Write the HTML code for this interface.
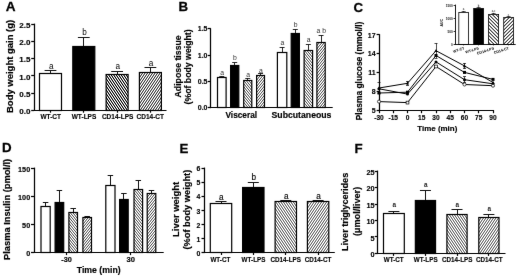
<!DOCTYPE html>
<html><head><meta charset="utf-8"><title>Figure</title>
<style>
html,body{margin:0;padding:0;background:#fff;}
body{width:520px;height:278px;overflow:hidden;font-family:"Liberation Sans",sans-serif;}
svg{display:block;font-family:"Liberation Sans",sans-serif;}
</style></head>
<body>
<svg width="520" height="278" viewBox="0 0 520 278">
<defs>
<filter id="soft" x="0" y="0" width="520" height="278" filterUnits="userSpaceOnUse" color-interpolation-filters="sRGB"><feConvolveMatrix order="3" kernelMatrix="0.0028 0.0470 0.0028 0.0470 0.8008 0.0470 0.0028 0.0470 0.0028" edgeMode="duplicate" preserveAlpha="false"/></filter>
<pattern id="Lh1" patternUnits="userSpaceOnUse" width="5" height="15" shape-rendering="crispEdges"><rect width="5" height="15" fill="#fff"/><rect x="0" y="0" width="1" height="1" fill="#f0f0f0"/><rect x="1" y="0" width="1" height="1" fill="#171717"/><rect x="2" y="0" width="1" height="1" fill="#d4d4d4"/><rect x="3" y="0" width="1" height="1" fill="#7b7b7b"/><rect x="4" y="0" width="1" height="1" fill="#4e4e4e"/><rect x="0" y="1" width="1" height="1" fill="#ababab"/><rect x="1" y="1" width="1" height="1" fill="#ababab"/><rect x="2" y="1" width="1" height="1" fill="#2a2a2a"/><rect x="3" y="1" width="1" height="1" fill="#fafafa"/><rect x="4" y="1" width="1" height="1" fill="#2a2a2a"/><rect x="0" y="2" width="1" height="1" fill="#171717"/><rect x="1" y="2" width="1" height="1" fill="#f0f0f0"/><rect x="2" y="2" width="1" height="1" fill="#4d4d4d"/><rect x="3" y="2" width="1" height="1" fill="#7b7b7b"/><rect x="4" y="2" width="1" height="1" fill="#d4d4d4"/><rect x="0" y="3" width="1" height="1" fill="#7b7b7b"/><rect x="1" y="3" width="1" height="1" fill="#4d4d4d"/><rect x="2" y="3" width="1" height="1" fill="#f0f0f0"/><rect x="3" y="3" width="1" height="1" fill="#171717"/><rect x="4" y="3" width="1" height="1" fill="#d4d4d4"/><rect x="0" y="4" width="1" height="1" fill="#fafafa"/><rect x="1" y="4" width="1" height="1" fill="#2a2a2a"/><rect x="2" y="4" width="1" height="1" fill="#ababab"/><rect x="3" y="4" width="1" height="1" fill="#ababab"/><rect x="4" y="4" width="1" height="1" fill="#2a2a2a"/><rect x="0" y="5" width="1" height="1" fill="#7b7b7b"/><rect x="1" y="5" width="1" height="1" fill="#d4d4d4"/><rect x="2" y="5" width="1" height="1" fill="#171717"/><rect x="3" y="5" width="1" height="1" fill="#f0f0f0"/><rect x="4" y="5" width="1" height="1" fill="#4d4d4d"/><rect x="0" y="6" width="1" height="1" fill="#171717"/><rect x="1" y="6" width="1" height="1" fill="#d4d4d4"/><rect x="2" y="6" width="1" height="1" fill="#7b7b7b"/><rect x="3" y="6" width="1" height="1" fill="#4d4d4d"/><rect x="4" y="6" width="1" height="1" fill="#f0f0f0"/><rect x="0" y="7" width="1" height="1" fill="#ababab"/><rect x="1" y="7" width="1" height="1" fill="#2a2a2a"/><rect x="2" y="7" width="1" height="1" fill="#fafafa"/><rect x="3" y="7" width="1" height="1" fill="#2a2a2a"/><rect x="4" y="7" width="1" height="1" fill="#ababab"/><rect x="0" y="8" width="1" height="1" fill="#f0f0f0"/><rect x="1" y="8" width="1" height="1" fill="#4d4d4d"/><rect x="2" y="8" width="1" height="1" fill="#7b7b7b"/><rect x="3" y="8" width="1" height="1" fill="#d4d4d4"/><rect x="4" y="8" width="1" height="1" fill="#171717"/><rect x="0" y="9" width="1" height="1" fill="#4e4e4e"/><rect x="1" y="9" width="1" height="1" fill="#f0f0f0"/><rect x="2" y="9" width="1" height="1" fill="#171717"/><rect x="3" y="9" width="1" height="1" fill="#d4d4d4"/><rect x="4" y="9" width="1" height="1" fill="#7b7b7b"/><rect x="0" y="10" width="1" height="1" fill="#2a2a2a"/><rect x="1" y="10" width="1" height="1" fill="#ababab"/><rect x="2" y="10" width="1" height="1" fill="#ababab"/><rect x="3" y="10" width="1" height="1" fill="#2a2a2a"/><rect x="4" y="10" width="1" height="1" fill="#fafafa"/><rect x="0" y="11" width="1" height="1" fill="#d4d4d4"/><rect x="1" y="11" width="1" height="1" fill="#171717"/><rect x="2" y="11" width="1" height="1" fill="#f0f0f0"/><rect x="3" y="11" width="1" height="1" fill="#4e4e4e"/><rect x="4" y="11" width="1" height="1" fill="#7b7b7b"/><rect x="0" y="12" width="1" height="1" fill="#d4d4d4"/><rect x="1" y="12" width="1" height="1" fill="#7b7b7b"/><rect x="2" y="12" width="1" height="1" fill="#4d4d4d"/><rect x="3" y="12" width="1" height="1" fill="#f0f0f0"/><rect x="4" y="12" width="1" height="1" fill="#171717"/><rect x="0" y="13" width="1" height="1" fill="#2a2a2a"/><rect x="1" y="13" width="1" height="1" fill="#fafafa"/><rect x="2" y="13" width="1" height="1" fill="#2a2a2a"/><rect x="3" y="13" width="1" height="1" fill="#ababab"/><rect x="4" y="13" width="1" height="1" fill="#ababab"/><rect x="0" y="14" width="1" height="1" fill="#4d4d4d"/><rect x="1" y="14" width="1" height="1" fill="#7b7b7b"/><rect x="2" y="14" width="1" height="1" fill="#d4d4d4"/><rect x="3" y="14" width="1" height="1" fill="#171717"/><rect x="4" y="14" width="1" height="1" fill="#f0f0f0"/></pattern>
<pattern id="Lh2" patternUnits="userSpaceOnUse" width="5" height="15" shape-rendering="crispEdges"><rect width="5" height="15" fill="#fff"/><rect x="0" y="0" width="1" height="1" fill="#787878"/><rect x="1" y="0" width="1" height="1" fill="#9c9c9c"/><rect x="2" y="0" width="1" height="1" fill="#e1e1e1"/><rect x="3" y="0" width="1" height="1" fill="#4d4d4d"/><rect x="4" y="0" width="1" height="1" fill="#f7f7f7"/><rect x="0" y="1" width="1" height="1" fill="#5c5c5c"/><rect x="2" y="1" width="1" height="1" fill="#5c5c5c"/><rect x="3" y="1" width="1" height="1" fill="#c1c1c1"/><rect x="4" y="1" width="1" height="1" fill="#c1c1c1"/><rect x="0" y="2" width="1" height="1" fill="#e1e1e1"/><rect x="1" y="2" width="1" height="1" fill="#9c9c9c"/><rect x="2" y="2" width="1" height="1" fill="#787878"/><rect x="3" y="2" width="1" height="1" fill="#f7f7f7"/><rect x="4" y="2" width="1" height="1" fill="#4d4d4d"/><rect x="0" y="3" width="1" height="1" fill="#e1e1e1"/><rect x="1" y="3" width="1" height="1" fill="#4d4d4d"/><rect x="2" y="3" width="1" height="1" fill="#f7f7f7"/><rect x="3" y="3" width="1" height="1" fill="#787878"/><rect x="4" y="3" width="1" height="1" fill="#9c9c9c"/><rect x="0" y="4" width="1" height="1" fill="#5c5c5c"/><rect x="1" y="4" width="1" height="1" fill="#c1c1c1"/><rect x="2" y="4" width="1" height="1" fill="#c1c1c1"/><rect x="3" y="4" width="1" height="1" fill="#5c5c5c"/><rect x="0" y="5" width="1" height="1" fill="#787878"/><rect x="1" y="5" width="1" height="1" fill="#f7f7f7"/><rect x="2" y="5" width="1" height="1" fill="#4d4d4d"/><rect x="3" y="5" width="1" height="1" fill="#e1e1e1"/><rect x="4" y="5" width="1" height="1" fill="#9c9c9c"/><rect x="0" y="6" width="1" height="1" fill="#f7f7f7"/><rect x="1" y="6" width="1" height="1" fill="#787878"/><rect x="2" y="6" width="1" height="1" fill="#9c9c9c"/><rect x="3" y="6" width="1" height="1" fill="#e1e1e1"/><rect x="4" y="6" width="1" height="1" fill="#4d4d4d"/><rect x="0" y="7" width="1" height="1" fill="#c1c1c1"/><rect x="1" y="7" width="1" height="1" fill="#5c5c5c"/><rect x="3" y="7" width="1" height="1" fill="#5c5c5c"/><rect x="4" y="7" width="1" height="1" fill="#c1c1c1"/><rect x="0" y="8" width="1" height="1" fill="#4d4d4d"/><rect x="1" y="8" width="1" height="1" fill="#e1e1e1"/><rect x="2" y="8" width="1" height="1" fill="#9c9c9c"/><rect x="3" y="8" width="1" height="1" fill="#787878"/><rect x="4" y="8" width="1" height="1" fill="#f7f7f7"/><rect x="0" y="9" width="1" height="1" fill="#9c9c9c"/><rect x="1" y="9" width="1" height="1" fill="#e1e1e1"/><rect x="2" y="9" width="1" height="1" fill="#4d4d4d"/><rect x="3" y="9" width="1" height="1" fill="#f7f7f7"/><rect x="4" y="9" width="1" height="1" fill="#787878"/><rect x="1" y="10" width="1" height="1" fill="#5c5c5c"/><rect x="2" y="10" width="1" height="1" fill="#c1c1c1"/><rect x="3" y="10" width="1" height="1" fill="#c1c1c1"/><rect x="4" y="10" width="1" height="1" fill="#5c5c5c"/><rect x="0" y="11" width="1" height="1" fill="#9c9c9c"/><rect x="1" y="11" width="1" height="1" fill="#787878"/><rect x="2" y="11" width="1" height="1" fill="#f7f7f7"/><rect x="3" y="11" width="1" height="1" fill="#4d4d4d"/><rect x="4" y="11" width="1" height="1" fill="#e1e1e1"/><rect x="0" y="12" width="1" height="1" fill="#4d4d4d"/><rect x="1" y="12" width="1" height="1" fill="#f7f7f7"/><rect x="2" y="12" width="1" height="1" fill="#787878"/><rect x="3" y="12" width="1" height="1" fill="#9c9c9c"/><rect x="4" y="12" width="1" height="1" fill="#e1e1e1"/><rect x="0" y="13" width="1" height="1" fill="#c1c1c1"/><rect x="1" y="13" width="1" height="1" fill="#c1c1c1"/><rect x="2" y="13" width="1" height="1" fill="#5c5c5c"/><rect x="4" y="13" width="1" height="1" fill="#5c5c5c"/><rect x="0" y="14" width="1" height="1" fill="#f7f7f7"/><rect x="1" y="14" width="1" height="1" fill="#4d4d4d"/><rect x="2" y="14" width="1" height="1" fill="#e1e1e1"/><rect x="3" y="14" width="1" height="1" fill="#9c9c9c"/><rect x="4" y="14" width="1" height="1" fill="#787878"/></pattern>
<pattern id="Mh1" patternUnits="userSpaceOnUse" width="5" height="15" shape-rendering="crispEdges"><rect width="5" height="15" fill="#fff"/><rect x="0" y="0" width="1" height="1" fill="#fcfcfc"/><rect x="1" y="0" width="1" height="1" fill="#747474"/><rect x="2" y="0" width="1" height="1" fill="#eaeaea"/><rect x="3" y="0" width="1" height="1" fill="#b2b2b2"/><rect x="4" y="0" width="1" height="1" fill="#969696"/><rect x="0" y="1" width="1" height="1" fill="#d0d0d0"/><rect x="1" y="1" width="1" height="1" fill="#d0d0d0"/><rect x="2" y="1" width="1" height="1" fill="#808080"/><rect x="4" y="1" width="1" height="1" fill="#808080"/><rect x="0" y="2" width="1" height="1" fill="#747474"/><rect x="1" y="2" width="1" height="1" fill="#fcfcfc"/><rect x="2" y="2" width="1" height="1" fill="#969696"/><rect x="3" y="2" width="1" height="1" fill="#b2b2b2"/><rect x="4" y="2" width="1" height="1" fill="#eaeaea"/><rect x="0" y="3" width="1" height="1" fill="#b2b2b2"/><rect x="1" y="3" width="1" height="1" fill="#969696"/><rect x="2" y="3" width="1" height="1" fill="#fcfcfc"/><rect x="3" y="3" width="1" height="1" fill="#747474"/><rect x="4" y="3" width="1" height="1" fill="#eaeaea"/><rect x="1" y="4" width="1" height="1" fill="#808080"/><rect x="2" y="4" width="1" height="1" fill="#d0d0d0"/><rect x="3" y="4" width="1" height="1" fill="#d0d0d0"/><rect x="4" y="4" width="1" height="1" fill="#808080"/><rect x="0" y="5" width="1" height="1" fill="#b2b2b2"/><rect x="1" y="5" width="1" height="1" fill="#eaeaea"/><rect x="2" y="5" width="1" height="1" fill="#747474"/><rect x="3" y="5" width="1" height="1" fill="#fcfcfc"/><rect x="4" y="5" width="1" height="1" fill="#969696"/><rect x="0" y="6" width="1" height="1" fill="#747474"/><rect x="1" y="6" width="1" height="1" fill="#eaeaea"/><rect x="2" y="6" width="1" height="1" fill="#b2b2b2"/><rect x="3" y="6" width="1" height="1" fill="#969696"/><rect x="4" y="6" width="1" height="1" fill="#fcfcfc"/><rect x="0" y="7" width="1" height="1" fill="#d0d0d0"/><rect x="1" y="7" width="1" height="1" fill="#808080"/><rect x="3" y="7" width="1" height="1" fill="#808080"/><rect x="4" y="7" width="1" height="1" fill="#d0d0d0"/><rect x="0" y="8" width="1" height="1" fill="#fcfcfc"/><rect x="1" y="8" width="1" height="1" fill="#969696"/><rect x="2" y="8" width="1" height="1" fill="#b2b2b2"/><rect x="3" y="8" width="1" height="1" fill="#eaeaea"/><rect x="4" y="8" width="1" height="1" fill="#747474"/><rect x="0" y="9" width="1" height="1" fill="#969696"/><rect x="1" y="9" width="1" height="1" fill="#fcfcfc"/><rect x="2" y="9" width="1" height="1" fill="#747474"/><rect x="3" y="9" width="1" height="1" fill="#eaeaea"/><rect x="4" y="9" width="1" height="1" fill="#b2b2b2"/><rect x="0" y="10" width="1" height="1" fill="#808080"/><rect x="1" y="10" width="1" height="1" fill="#d0d0d0"/><rect x="2" y="10" width="1" height="1" fill="#d0d0d0"/><rect x="3" y="10" width="1" height="1" fill="#808080"/><rect x="0" y="11" width="1" height="1" fill="#eaeaea"/><rect x="1" y="11" width="1" height="1" fill="#747474"/><rect x="2" y="11" width="1" height="1" fill="#fcfcfc"/><rect x="3" y="11" width="1" height="1" fill="#969696"/><rect x="4" y="11" width="1" height="1" fill="#b2b2b2"/><rect x="0" y="12" width="1" height="1" fill="#eaeaea"/><rect x="1" y="12" width="1" height="1" fill="#b2b2b2"/><rect x="2" y="12" width="1" height="1" fill="#969696"/><rect x="3" y="12" width="1" height="1" fill="#fcfcfc"/><rect x="4" y="12" width="1" height="1" fill="#747474"/><rect x="0" y="13" width="1" height="1" fill="#808080"/><rect x="2" y="13" width="1" height="1" fill="#808080"/><rect x="3" y="13" width="1" height="1" fill="#d0d0d0"/><rect x="4" y="13" width="1" height="1" fill="#d0d0d0"/><rect x="0" y="14" width="1" height="1" fill="#969696"/><rect x="1" y="14" width="1" height="1" fill="#b2b2b2"/><rect x="2" y="14" width="1" height="1" fill="#eaeaea"/><rect x="3" y="14" width="1" height="1" fill="#747474"/><rect x="4" y="14" width="1" height="1" fill="#fcfcfc"/></pattern>
<pattern id="Mh2" patternUnits="userSpaceOnUse" width="5" height="15" shape-rendering="crispEdges"><rect width="5" height="15" fill="#fff"/><rect x="0" y="0" width="1" height="1" fill="#969696"/><rect x="1" y="0" width="1" height="1" fill="#b2b2b2"/><rect x="2" y="0" width="1" height="1" fill="#eaeaea"/><rect x="3" y="0" width="1" height="1" fill="#747474"/><rect x="4" y="0" width="1" height="1" fill="#fcfcfc"/><rect x="0" y="1" width="1" height="1" fill="#808080"/><rect x="2" y="1" width="1" height="1" fill="#808080"/><rect x="3" y="1" width="1" height="1" fill="#d0d0d0"/><rect x="4" y="1" width="1" height="1" fill="#d0d0d0"/><rect x="0" y="2" width="1" height="1" fill="#eaeaea"/><rect x="1" y="2" width="1" height="1" fill="#b2b2b2"/><rect x="2" y="2" width="1" height="1" fill="#969696"/><rect x="3" y="2" width="1" height="1" fill="#fcfcfc"/><rect x="4" y="2" width="1" height="1" fill="#747474"/><rect x="0" y="3" width="1" height="1" fill="#eaeaea"/><rect x="1" y="3" width="1" height="1" fill="#747474"/><rect x="2" y="3" width="1" height="1" fill="#fcfcfc"/><rect x="3" y="3" width="1" height="1" fill="#969696"/><rect x="4" y="3" width="1" height="1" fill="#b2b2b2"/><rect x="0" y="4" width="1" height="1" fill="#808080"/><rect x="1" y="4" width="1" height="1" fill="#d0d0d0"/><rect x="2" y="4" width="1" height="1" fill="#d0d0d0"/><rect x="3" y="4" width="1" height="1" fill="#808080"/><rect x="0" y="5" width="1" height="1" fill="#969696"/><rect x="1" y="5" width="1" height="1" fill="#fcfcfc"/><rect x="2" y="5" width="1" height="1" fill="#747474"/><rect x="3" y="5" width="1" height="1" fill="#eaeaea"/><rect x="4" y="5" width="1" height="1" fill="#b2b2b2"/><rect x="0" y="6" width="1" height="1" fill="#fcfcfc"/><rect x="1" y="6" width="1" height="1" fill="#969696"/><rect x="2" y="6" width="1" height="1" fill="#b2b2b2"/><rect x="3" y="6" width="1" height="1" fill="#eaeaea"/><rect x="4" y="6" width="1" height="1" fill="#747474"/><rect x="0" y="7" width="1" height="1" fill="#d0d0d0"/><rect x="1" y="7" width="1" height="1" fill="#808080"/><rect x="3" y="7" width="1" height="1" fill="#808080"/><rect x="4" y="7" width="1" height="1" fill="#d0d0d0"/><rect x="0" y="8" width="1" height="1" fill="#747474"/><rect x="1" y="8" width="1" height="1" fill="#eaeaea"/><rect x="2" y="8" width="1" height="1" fill="#b2b2b2"/><rect x="3" y="8" width="1" height="1" fill="#969696"/><rect x="4" y="8" width="1" height="1" fill="#fcfcfc"/><rect x="0" y="9" width="1" height="1" fill="#b2b2b2"/><rect x="1" y="9" width="1" height="1" fill="#eaeaea"/><rect x="2" y="9" width="1" height="1" fill="#747474"/><rect x="3" y="9" width="1" height="1" fill="#fcfcfc"/><rect x="4" y="9" width="1" height="1" fill="#969696"/><rect x="1" y="10" width="1" height="1" fill="#808080"/><rect x="2" y="10" width="1" height="1" fill="#d0d0d0"/><rect x="3" y="10" width="1" height="1" fill="#d0d0d0"/><rect x="4" y="10" width="1" height="1" fill="#808080"/><rect x="0" y="11" width="1" height="1" fill="#b2b2b2"/><rect x="1" y="11" width="1" height="1" fill="#969696"/><rect x="2" y="11" width="1" height="1" fill="#fcfcfc"/><rect x="3" y="11" width="1" height="1" fill="#747474"/><rect x="4" y="11" width="1" height="1" fill="#eaeaea"/><rect x="0" y="12" width="1" height="1" fill="#747474"/><rect x="1" y="12" width="1" height="1" fill="#fcfcfc"/><rect x="2" y="12" width="1" height="1" fill="#969696"/><rect x="3" y="12" width="1" height="1" fill="#b2b2b2"/><rect x="4" y="12" width="1" height="1" fill="#eaeaea"/><rect x="0" y="13" width="1" height="1" fill="#d0d0d0"/><rect x="1" y="13" width="1" height="1" fill="#d0d0d0"/><rect x="2" y="13" width="1" height="1" fill="#808080"/><rect x="4" y="13" width="1" height="1" fill="#808080"/><rect x="0" y="14" width="1" height="1" fill="#fcfcfc"/><rect x="1" y="14" width="1" height="1" fill="#747474"/><rect x="2" y="14" width="1" height="1" fill="#eaeaea"/><rect x="3" y="14" width="1" height="1" fill="#b2b2b2"/><rect x="4" y="14" width="1" height="1" fill="#969696"/></pattern>
<pattern id="Sh1" patternUnits="userSpaceOnUse" width="5" height="31" shape-rendering="crispEdges"><rect width="5" height="31" fill="#fff"/><rect x="0" y="0" width="1" height="1" fill="#f9f9f9"/><rect x="1" y="0" width="1" height="1" fill="#757575"/><rect x="2" y="0" width="1" height="1" fill="#e2e2e2"/><rect x="3" y="0" width="1" height="1" fill="#c6c6c6"/><rect x="4" y="0" width="1" height="1" fill="#8c8c8c"/><rect x="0" y="1" width="1" height="1" fill="#aeaeae"/><rect x="1" y="1" width="1" height="1" fill="#eeeeee"/><rect x="2" y="1" width="1" height="1" fill="#6a6a6a"/><rect x="3" y="1" width="1" height="1" fill="#f4f4f4"/><rect x="4" y="1" width="1" height="1" fill="#9d9d9d"/><rect x="0" y="2" width="1" height="1" fill="#7b7b7b"/><rect x="1" y="2" width="1" height="1" fill="#d1d1d1"/><rect x="2" y="2" width="1" height="1" fill="#d7d7d7"/><rect x="3" y="2" width="1" height="1" fill="#757575"/><rect x="0" y="3" width="1" height="1" fill="#f9f9f9"/><rect x="1" y="3" width="1" height="1" fill="#646464"/><rect x="2" y="3" width="1" height="1" fill="#eeeeee"/><rect x="3" y="3" width="1" height="1" fill="#b4b4b4"/><rect x="4" y="3" width="1" height="1" fill="#989898"/><rect x="0" y="4" width="1" height="1" fill="#c0c0c0"/><rect x="1" y="4" width="1" height="1" fill="#e8e8e8"/><rect x="2" y="4" width="1" height="1" fill="#6f6f6f"/><rect x="3" y="4" width="1" height="1" fill="#f9f9f9"/><rect x="4" y="4" width="1" height="1" fill="#929292"/><rect x="0" y="5" width="1" height="1" fill="#757575"/><rect x="1" y="5" width="1" height="1" fill="#dcdcdc"/><rect x="2" y="5" width="1" height="1" fill="#cbcbcb"/><rect x="3" y="5" width="1" height="1" fill="#868686"/><rect x="0" y="6" width="1" height="1" fill="#eeeeee"/><rect x="1" y="6" width="1" height="1" fill="#6f6f6f"/><rect x="2" y="6" width="1" height="1" fill="#eeeeee"/><rect x="3" y="6" width="1" height="1" fill="#a3a3a3"/><rect x="4" y="6" width="1" height="1" fill="#a9a9a9"/><rect x="0" y="7" width="1" height="1" fill="#cbcbcb"/><rect x="1" y="7" width="1" height="1" fill="#dcdcdc"/><rect x="2" y="7" width="1" height="1" fill="#6f6f6f"/><rect x="4" y="7" width="1" height="1" fill="#808080"/><rect x="0" y="8" width="1" height="1" fill="#6a6a6a"/><rect x="1" y="8" width="1" height="1" fill="#e8e8e8"/><rect x="2" y="8" width="1" height="1" fill="#bababa"/><rect x="3" y="8" width="1" height="1" fill="#929292"/><rect x="4" y="8" width="1" height="1" fill="#f9f9f9"/><rect x="0" y="9" width="1" height="1" fill="#eeeeee"/><rect x="1" y="9" width="1" height="1" fill="#6a6a6a"/><rect x="2" y="9" width="1" height="1" fill="#f9f9f9"/><rect x="3" y="9" width="1" height="1" fill="#989898"/><rect x="4" y="9" width="1" height="1" fill="#bababa"/><rect x="0" y="10" width="1" height="1" fill="#dcdcdc"/><rect x="1" y="10" width="1" height="1" fill="#d1d1d1"/><rect x="2" y="10" width="1" height="1" fill="#808080"/><rect x="4" y="10" width="1" height="1" fill="#757575"/><rect x="0" y="11" width="1" height="1" fill="#6f6f6f"/><rect x="1" y="11" width="1" height="1" fill="#eeeeee"/><rect x="2" y="11" width="1" height="1" fill="#aeaeae"/><rect x="3" y="11" width="1" height="1" fill="#a3a3a3"/><rect x="4" y="11" width="1" height="1" fill="#f4f4f4"/><rect x="0" y="12" width="1" height="1" fill="#dcdcdc"/><rect x="1" y="12" width="1" height="1" fill="#6f6f6f"/><rect x="2" y="12" width="1" height="1" fill="#f9f9f9"/><rect x="3" y="12" width="1" height="1" fill="#808080"/><rect x="4" y="12" width="1" height="1" fill="#c6c6c6"/><rect x="0" y="13" width="1" height="1" fill="#e2e2e2"/><rect x="1" y="13" width="1" height="1" fill="#c0c0c0"/><rect x="2" y="13" width="1" height="1" fill="#8c8c8c"/><rect x="3" y="13" width="1" height="1" fill="#f9f9f9"/><rect x="4" y="13" width="1" height="1" fill="#6f6f6f"/><rect x="0" y="14" width="1" height="1" fill="#6a6a6a"/><rect x="1" y="14" width="1" height="1" fill="#f9f9f9"/><rect x="2" y="14" width="1" height="1" fill="#9d9d9d"/><rect x="3" y="14" width="1" height="1" fill="#b4b4b4"/><rect x="4" y="14" width="1" height="1" fill="#eeeeee"/><rect x="0" y="15" width="1" height="1" fill="#d7d7d7"/><rect x="1" y="15" width="1" height="1" fill="#7b7b7b"/><rect x="3" y="15" width="1" height="1" fill="#7b7b7b"/><rect x="4" y="15" width="1" height="1" fill="#d7d7d7"/><rect x="0" y="16" width="1" height="1" fill="#eeeeee"/><rect x="1" y="16" width="1" height="1" fill="#b4b4b4"/><rect x="2" y="16" width="1" height="1" fill="#9d9d9d"/><rect x="3" y="16" width="1" height="1" fill="#f9f9f9"/><rect x="4" y="16" width="1" height="1" fill="#6a6a6a"/><rect x="0" y="17" width="1" height="1" fill="#6f6f6f"/><rect x="1" y="17" width="1" height="1" fill="#f9f9f9"/><rect x="2" y="17" width="1" height="1" fill="#8c8c8c"/><rect x="3" y="17" width="1" height="1" fill="#c0c0c0"/><rect x="4" y="17" width="1" height="1" fill="#e2e2e2"/><rect x="0" y="18" width="1" height="1" fill="#c6c6c6"/><rect x="1" y="18" width="1" height="1" fill="#808080"/><rect x="2" y="18" width="1" height="1" fill="#f9f9f9"/><rect x="3" y="18" width="1" height="1" fill="#6f6f6f"/><rect x="4" y="18" width="1" height="1" fill="#dcdcdc"/><rect x="0" y="19" width="1" height="1" fill="#f4f4f4"/><rect x="1" y="19" width="1" height="1" fill="#a3a3a3"/><rect x="2" y="19" width="1" height="1" fill="#aeaeae"/><rect x="3" y="19" width="1" height="1" fill="#eeeeee"/><rect x="4" y="19" width="1" height="1" fill="#6f6f6f"/><rect x="0" y="20" width="1" height="1" fill="#757575"/><rect x="2" y="20" width="1" height="1" fill="#808080"/><rect x="3" y="20" width="1" height="1" fill="#d1d1d1"/><rect x="4" y="20" width="1" height="1" fill="#dcdcdc"/><rect x="0" y="21" width="1" height="1" fill="#bababa"/><rect x="1" y="21" width="1" height="1" fill="#989898"/><rect x="2" y="21" width="1" height="1" fill="#f9f9f9"/><rect x="3" y="21" width="1" height="1" fill="#6a6a6a"/><rect x="4" y="21" width="1" height="1" fill="#eeeeee"/><rect x="0" y="22" width="1" height="1" fill="#f9f9f9"/><rect x="1" y="22" width="1" height="1" fill="#929292"/><rect x="2" y="22" width="1" height="1" fill="#bababa"/><rect x="3" y="22" width="1" height="1" fill="#e8e8e8"/><rect x="4" y="22" width="1" height="1" fill="#6a6a6a"/><rect x="0" y="23" width="1" height="1" fill="#808080"/><rect x="2" y="23" width="1" height="1" fill="#6f6f6f"/><rect x="3" y="23" width="1" height="1" fill="#dcdcdc"/><rect x="4" y="23" width="1" height="1" fill="#cbcbcb"/><rect x="0" y="24" width="1" height="1" fill="#a9a9a9"/><rect x="1" y="24" width="1" height="1" fill="#a3a3a3"/><rect x="2" y="24" width="1" height="1" fill="#eeeeee"/><rect x="3" y="24" width="1" height="1" fill="#6f6f6f"/><rect x="4" y="24" width="1" height="1" fill="#eeeeee"/><rect x="1" y="25" width="1" height="1" fill="#868686"/><rect x="2" y="25" width="1" height="1" fill="#cbcbcb"/><rect x="3" y="25" width="1" height="1" fill="#dcdcdc"/><rect x="4" y="25" width="1" height="1" fill="#757575"/><rect x="0" y="26" width="1" height="1" fill="#929292"/><rect x="1" y="26" width="1" height="1" fill="#f9f9f9"/><rect x="2" y="26" width="1" height="1" fill="#6f6f6f"/><rect x="3" y="26" width="1" height="1" fill="#e8e8e8"/><rect x="4" y="26" width="1" height="1" fill="#c0c0c0"/><rect x="0" y="27" width="1" height="1" fill="#989898"/><rect x="1" y="27" width="1" height="1" fill="#b4b4b4"/><rect x="2" y="27" width="1" height="1" fill="#eeeeee"/><rect x="3" y="27" width="1" height="1" fill="#646464"/><rect x="4" y="27" width="1" height="1" fill="#f9f9f9"/><rect x="1" y="28" width="1" height="1" fill="#757575"/><rect x="2" y="28" width="1" height="1" fill="#d7d7d7"/><rect x="3" y="28" width="1" height="1" fill="#d1d1d1"/><rect x="4" y="28" width="1" height="1" fill="#7b7b7b"/><rect x="0" y="29" width="1" height="1" fill="#9d9d9d"/><rect x="1" y="29" width="1" height="1" fill="#f4f4f4"/><rect x="2" y="29" width="1" height="1" fill="#6a6a6a"/><rect x="3" y="29" width="1" height="1" fill="#eeeeee"/><rect x="4" y="29" width="1" height="1" fill="#aeaeae"/><rect x="0" y="30" width="1" height="1" fill="#8c8c8c"/><rect x="1" y="30" width="1" height="1" fill="#c6c6c6"/><rect x="2" y="30" width="1" height="1" fill="#e2e2e2"/><rect x="3" y="30" width="1" height="1" fill="#757575"/><rect x="4" y="30" width="1" height="1" fill="#f9f9f9"/></pattern>
<pattern id="Sh2" patternUnits="userSpaceOnUse" width="5" height="31" shape-rendering="crispEdges"><rect width="5" height="31" fill="#fff"/><rect x="0" y="0" width="1" height="1" fill="#8c8c8c"/><rect x="1" y="0" width="1" height="1" fill="#c6c6c6"/><rect x="2" y="0" width="1" height="1" fill="#e2e2e2"/><rect x="3" y="0" width="1" height="1" fill="#757575"/><rect x="4" y="0" width="1" height="1" fill="#f9f9f9"/><rect x="0" y="1" width="1" height="1" fill="#9d9d9d"/><rect x="1" y="1" width="1" height="1" fill="#f4f4f4"/><rect x="2" y="1" width="1" height="1" fill="#6a6a6a"/><rect x="3" y="1" width="1" height="1" fill="#eeeeee"/><rect x="4" y="1" width="1" height="1" fill="#aeaeae"/><rect x="1" y="2" width="1" height="1" fill="#757575"/><rect x="2" y="2" width="1" height="1" fill="#d7d7d7"/><rect x="3" y="2" width="1" height="1" fill="#d1d1d1"/><rect x="4" y="2" width="1" height="1" fill="#7b7b7b"/><rect x="0" y="3" width="1" height="1" fill="#989898"/><rect x="1" y="3" width="1" height="1" fill="#b4b4b4"/><rect x="2" y="3" width="1" height="1" fill="#eeeeee"/><rect x="3" y="3" width="1" height="1" fill="#646464"/><rect x="4" y="3" width="1" height="1" fill="#f9f9f9"/><rect x="0" y="4" width="1" height="1" fill="#929292"/><rect x="1" y="4" width="1" height="1" fill="#f9f9f9"/><rect x="2" y="4" width="1" height="1" fill="#6f6f6f"/><rect x="3" y="4" width="1" height="1" fill="#e8e8e8"/><rect x="4" y="4" width="1" height="1" fill="#c0c0c0"/><rect x="1" y="5" width="1" height="1" fill="#868686"/><rect x="2" y="5" width="1" height="1" fill="#cbcbcb"/><rect x="3" y="5" width="1" height="1" fill="#dcdcdc"/><rect x="4" y="5" width="1" height="1" fill="#757575"/><rect x="0" y="6" width="1" height="1" fill="#a9a9a9"/><rect x="1" y="6" width="1" height="1" fill="#a3a3a3"/><rect x="2" y="6" width="1" height="1" fill="#eeeeee"/><rect x="3" y="6" width="1" height="1" fill="#6f6f6f"/><rect x="4" y="6" width="1" height="1" fill="#eeeeee"/><rect x="0" y="7" width="1" height="1" fill="#808080"/><rect x="2" y="7" width="1" height="1" fill="#6f6f6f"/><rect x="3" y="7" width="1" height="1" fill="#dcdcdc"/><rect x="4" y="7" width="1" height="1" fill="#cbcbcb"/><rect x="0" y="8" width="1" height="1" fill="#f9f9f9"/><rect x="1" y="8" width="1" height="1" fill="#929292"/><rect x="2" y="8" width="1" height="1" fill="#bababa"/><rect x="3" y="8" width="1" height="1" fill="#e8e8e8"/><rect x="4" y="8" width="1" height="1" fill="#6a6a6a"/><rect x="0" y="9" width="1" height="1" fill="#bababa"/><rect x="1" y="9" width="1" height="1" fill="#989898"/><rect x="2" y="9" width="1" height="1" fill="#f9f9f9"/><rect x="3" y="9" width="1" height="1" fill="#6a6a6a"/><rect x="4" y="9" width="1" height="1" fill="#eeeeee"/><rect x="0" y="10" width="1" height="1" fill="#757575"/><rect x="2" y="10" width="1" height="1" fill="#808080"/><rect x="3" y="10" width="1" height="1" fill="#d1d1d1"/><rect x="4" y="10" width="1" height="1" fill="#dcdcdc"/><rect x="0" y="11" width="1" height="1" fill="#f4f4f4"/><rect x="1" y="11" width="1" height="1" fill="#a3a3a3"/><rect x="2" y="11" width="1" height="1" fill="#aeaeae"/><rect x="3" y="11" width="1" height="1" fill="#eeeeee"/><rect x="4" y="11" width="1" height="1" fill="#6f6f6f"/><rect x="0" y="12" width="1" height="1" fill="#c6c6c6"/><rect x="1" y="12" width="1" height="1" fill="#808080"/><rect x="2" y="12" width="1" height="1" fill="#f9f9f9"/><rect x="3" y="12" width="1" height="1" fill="#6f6f6f"/><rect x="4" y="12" width="1" height="1" fill="#dcdcdc"/><rect x="0" y="13" width="1" height="1" fill="#6f6f6f"/><rect x="1" y="13" width="1" height="1" fill="#f9f9f9"/><rect x="2" y="13" width="1" height="1" fill="#8c8c8c"/><rect x="3" y="13" width="1" height="1" fill="#c0c0c0"/><rect x="4" y="13" width="1" height="1" fill="#e2e2e2"/><rect x="0" y="14" width="1" height="1" fill="#eeeeee"/><rect x="1" y="14" width="1" height="1" fill="#b4b4b4"/><rect x="2" y="14" width="1" height="1" fill="#9d9d9d"/><rect x="3" y="14" width="1" height="1" fill="#f9f9f9"/><rect x="4" y="14" width="1" height="1" fill="#6a6a6a"/><rect x="0" y="15" width="1" height="1" fill="#d7d7d7"/><rect x="1" y="15" width="1" height="1" fill="#7b7b7b"/><rect x="3" y="15" width="1" height="1" fill="#7b7b7b"/><rect x="4" y="15" width="1" height="1" fill="#d7d7d7"/><rect x="0" y="16" width="1" height="1" fill="#6a6a6a"/><rect x="1" y="16" width="1" height="1" fill="#f9f9f9"/><rect x="2" y="16" width="1" height="1" fill="#9d9d9d"/><rect x="3" y="16" width="1" height="1" fill="#b4b4b4"/><rect x="4" y="16" width="1" height="1" fill="#eeeeee"/><rect x="0" y="17" width="1" height="1" fill="#e2e2e2"/><rect x="1" y="17" width="1" height="1" fill="#c0c0c0"/><rect x="2" y="17" width="1" height="1" fill="#8c8c8c"/><rect x="3" y="17" width="1" height="1" fill="#f9f9f9"/><rect x="4" y="17" width="1" height="1" fill="#6f6f6f"/><rect x="0" y="18" width="1" height="1" fill="#dcdcdc"/><rect x="1" y="18" width="1" height="1" fill="#6f6f6f"/><rect x="2" y="18" width="1" height="1" fill="#f9f9f9"/><rect x="3" y="18" width="1" height="1" fill="#808080"/><rect x="4" y="18" width="1" height="1" fill="#c6c6c6"/><rect x="0" y="19" width="1" height="1" fill="#6f6f6f"/><rect x="1" y="19" width="1" height="1" fill="#eeeeee"/><rect x="2" y="19" width="1" height="1" fill="#aeaeae"/><rect x="3" y="19" width="1" height="1" fill="#a3a3a3"/><rect x="4" y="19" width="1" height="1" fill="#f4f4f4"/><rect x="0" y="20" width="1" height="1" fill="#dcdcdc"/><rect x="1" y="20" width="1" height="1" fill="#d1d1d1"/><rect x="2" y="20" width="1" height="1" fill="#808080"/><rect x="4" y="20" width="1" height="1" fill="#757575"/><rect x="0" y="21" width="1" height="1" fill="#eeeeee"/><rect x="1" y="21" width="1" height="1" fill="#6a6a6a"/><rect x="2" y="21" width="1" height="1" fill="#f9f9f9"/><rect x="3" y="21" width="1" height="1" fill="#989898"/><rect x="4" y="21" width="1" height="1" fill="#bababa"/><rect x="0" y="22" width="1" height="1" fill="#6a6a6a"/><rect x="1" y="22" width="1" height="1" fill="#e8e8e8"/><rect x="2" y="22" width="1" height="1" fill="#bababa"/><rect x="3" y="22" width="1" height="1" fill="#929292"/><rect x="4" y="22" width="1" height="1" fill="#f9f9f9"/><rect x="0" y="23" width="1" height="1" fill="#cbcbcb"/><rect x="1" y="23" width="1" height="1" fill="#dcdcdc"/><rect x="2" y="23" width="1" height="1" fill="#6f6f6f"/><rect x="4" y="23" width="1" height="1" fill="#808080"/><rect x="0" y="24" width="1" height="1" fill="#eeeeee"/><rect x="1" y="24" width="1" height="1" fill="#6f6f6f"/><rect x="2" y="24" width="1" height="1" fill="#eeeeee"/><rect x="3" y="24" width="1" height="1" fill="#a3a3a3"/><rect x="4" y="24" width="1" height="1" fill="#a9a9a9"/><rect x="0" y="25" width="1" height="1" fill="#757575"/><rect x="1" y="25" width="1" height="1" fill="#dcdcdc"/><rect x="2" y="25" width="1" height="1" fill="#cbcbcb"/><rect x="3" y="25" width="1" height="1" fill="#868686"/><rect x="0" y="26" width="1" height="1" fill="#c0c0c0"/><rect x="1" y="26" width="1" height="1" fill="#e8e8e8"/><rect x="2" y="26" width="1" height="1" fill="#6f6f6f"/><rect x="3" y="26" width="1" height="1" fill="#f9f9f9"/><rect x="4" y="26" width="1" height="1" fill="#929292"/><rect x="0" y="27" width="1" height="1" fill="#f9f9f9"/><rect x="1" y="27" width="1" height="1" fill="#646464"/><rect x="2" y="27" width="1" height="1" fill="#eeeeee"/><rect x="3" y="27" width="1" height="1" fill="#b4b4b4"/><rect x="4" y="27" width="1" height="1" fill="#989898"/><rect x="0" y="28" width="1" height="1" fill="#7b7b7b"/><rect x="1" y="28" width="1" height="1" fill="#d1d1d1"/><rect x="2" y="28" width="1" height="1" fill="#d7d7d7"/><rect x="3" y="28" width="1" height="1" fill="#757575"/><rect x="0" y="29" width="1" height="1" fill="#aeaeae"/><rect x="1" y="29" width="1" height="1" fill="#eeeeee"/><rect x="2" y="29" width="1" height="1" fill="#6a6a6a"/><rect x="3" y="29" width="1" height="1" fill="#f4f4f4"/><rect x="4" y="29" width="1" height="1" fill="#9d9d9d"/><rect x="0" y="30" width="1" height="1" fill="#f9f9f9"/><rect x="1" y="30" width="1" height="1" fill="#757575"/><rect x="2" y="30" width="1" height="1" fill="#e2e2e2"/><rect x="3" y="30" width="1" height="1" fill="#c6c6c6"/><rect x="4" y="30" width="1" height="1" fill="#8c8c8c"/></pattern>
<pattern id="Ih1" patternUnits="userSpaceOnUse" width="7" height="7" shape-rendering="crispEdges"><rect width="7" height="7" fill="#fff"/><rect x="1" y="0" width="1" height="1" fill="#acacac"/><rect x="2" y="0" width="1" height="1" fill="#595959"/><rect x="3" y="0" width="2" height="1" fill="#eeeeee"/><rect x="5" y="0" width="1" height="1" fill="#595959"/><rect x="6" y="0" width="1" height="1" fill="#acacac"/><rect x="0" y="1" width="1" height="1" fill="#acacac"/><rect x="2" y="1" width="1" height="1" fill="#acacac"/><rect x="3" y="1" width="1" height="1" fill="#595959"/><rect x="4" y="1" width="2" height="1" fill="#eeeeee"/><rect x="6" y="1" width="1" height="1" fill="#595959"/><rect x="0" y="2" width="1" height="1" fill="#595959"/><rect x="1" y="2" width="1" height="1" fill="#acacac"/><rect x="3" y="2" width="1" height="1" fill="#acacac"/><rect x="4" y="2" width="1" height="1" fill="#595959"/><rect x="5" y="2" width="2" height="1" fill="#eeeeee"/><rect x="0" y="3" width="1" height="1" fill="#eeeeee"/><rect x="1" y="3" width="1" height="1" fill="#595959"/><rect x="2" y="3" width="1" height="1" fill="#acacac"/><rect x="4" y="3" width="1" height="1" fill="#acacac"/><rect x="5" y="3" width="1" height="1" fill="#595959"/><rect x="6" y="3" width="1" height="1" fill="#eeeeee"/><rect x="0" y="4" width="2" height="1" fill="#eeeeee"/><rect x="2" y="4" width="1" height="1" fill="#595959"/><rect x="3" y="4" width="1" height="1" fill="#acacac"/><rect x="5" y="4" width="1" height="1" fill="#acacac"/><rect x="6" y="4" width="1" height="1" fill="#595959"/><rect x="0" y="5" width="1" height="1" fill="#595959"/><rect x="1" y="5" width="2" height="1" fill="#eeeeee"/><rect x="3" y="5" width="1" height="1" fill="#595959"/><rect x="4" y="5" width="1" height="1" fill="#acacac"/><rect x="6" y="5" width="1" height="1" fill="#acacac"/><rect x="0" y="6" width="1" height="1" fill="#acacac"/><rect x="1" y="6" width="1" height="1" fill="#595959"/><rect x="2" y="6" width="2" height="1" fill="#eeeeee"/><rect x="4" y="6" width="1" height="1" fill="#595959"/><rect x="5" y="6" width="1" height="1" fill="#acacac"/></pattern>
<pattern id="Ih2" patternUnits="userSpaceOnUse" width="7" height="7" shape-rendering="crispEdges"><rect width="7" height="7" fill="#fff"/><rect x="0" y="0" width="1" height="1" fill="#acacac"/><rect x="1" y="0" width="1" height="1" fill="#595959"/><rect x="2" y="0" width="2" height="1" fill="#eeeeee"/><rect x="4" y="0" width="1" height="1" fill="#595959"/><rect x="5" y="0" width="1" height="1" fill="#acacac"/><rect x="0" y="1" width="1" height="1" fill="#595959"/><rect x="1" y="1" width="2" height="1" fill="#eeeeee"/><rect x="3" y="1" width="1" height="1" fill="#595959"/><rect x="4" y="1" width="1" height="1" fill="#acacac"/><rect x="6" y="1" width="1" height="1" fill="#acacac"/><rect x="0" y="2" width="2" height="1" fill="#eeeeee"/><rect x="2" y="2" width="1" height="1" fill="#595959"/><rect x="3" y="2" width="1" height="1" fill="#acacac"/><rect x="5" y="2" width="1" height="1" fill="#acacac"/><rect x="6" y="2" width="1" height="1" fill="#595959"/><rect x="0" y="3" width="1" height="1" fill="#eeeeee"/><rect x="1" y="3" width="1" height="1" fill="#595959"/><rect x="2" y="3" width="1" height="1" fill="#acacac"/><rect x="4" y="3" width="1" height="1" fill="#acacac"/><rect x="5" y="3" width="1" height="1" fill="#595959"/><rect x="6" y="3" width="1" height="1" fill="#eeeeee"/><rect x="0" y="4" width="1" height="1" fill="#595959"/><rect x="1" y="4" width="1" height="1" fill="#acacac"/><rect x="3" y="4" width="1" height="1" fill="#acacac"/><rect x="4" y="4" width="1" height="1" fill="#595959"/><rect x="5" y="4" width="2" height="1" fill="#eeeeee"/><rect x="0" y="5" width="1" height="1" fill="#acacac"/><rect x="2" y="5" width="1" height="1" fill="#acacac"/><rect x="3" y="5" width="1" height="1" fill="#595959"/><rect x="4" y="5" width="2" height="1" fill="#eeeeee"/><rect x="6" y="5" width="1" height="1" fill="#595959"/><rect x="1" y="6" width="1" height="1" fill="#acacac"/><rect x="2" y="6" width="1" height="1" fill="#595959"/><rect x="3" y="6" width="2" height="1" fill="#eeeeee"/><rect x="5" y="6" width="1" height="1" fill="#595959"/><rect x="6" y="6" width="1" height="1" fill="#acacac"/></pattern>
</defs>
<rect width="520" height="278" fill="#fff"/>
<rect x="106.1" y="74.5" width="22.0" height="36.0" fill="url(#Lh1)"/>
<rect x="139.4" y="72.5" width="22.0" height="38.0" fill="url(#Lh2)"/>
<rect x="243.7" y="80.5" width="8.100000000000023" height="27.0" fill="url(#Sh1)"/>
<rect x="256.6" y="75.5" width="7.899999999999977" height="32.0" fill="url(#Sh2)"/>
<rect x="304.1" y="50.5" width="8.499999999999943" height="57.0" fill="url(#Sh1)"/>
<rect x="316.90000000000003" y="42.5" width="8.299999999999955" height="65.0" fill="url(#Sh2)"/>
<rect x="488.59999999999997" y="14.5" width="10.000000000000057" height="30.0" fill="url(#Ih1)"/>
<rect x="503.7" y="17.5" width="9.699999999999989" height="27.0" fill="url(#Ih2)"/>
<rect x="68.89999999999999" y="212.5" width="8.600000000000023" height="40.0" fill="url(#Sh1)"/>
<rect x="82.89999999999999" y="217.5" width="8.600000000000023" height="35.0" fill="url(#Sh2)"/>
<rect x="134.0" y="189.5" width="8.600000000000023" height="63.0" fill="url(#Sh1)"/>
<rect x="147.2" y="193.5" width="8.600000000000023" height="59.0" fill="url(#Sh2)"/>
<rect x="275.1" y="201.5" width="21.399999999999977" height="51.0" fill="url(#Mh1)"/>
<rect x="307.40000000000003" y="201.5" width="21.399999999999977" height="51.0" fill="url(#Mh2)"/>
<rect x="446.90000000000003" y="214.5" width="20.199999999999932" height="39.0" fill="url(#Mh1)"/>
<rect x="478.8" y="217.5" width="20.199999999999932" height="36.0" fill="url(#Mh2)"/>
<g filter="url(#soft)">
<text x="5.8" y="11.1" font-size="13.6" font-weight="bold" text-anchor="start" fill="#000" stroke="#000" stroke-width="0.272">A</text>
<line x1="34.5" y1="23.6" x2="34.5" y2="110.7" stroke="#000" stroke-width="1.25"/>
<line x1="31.200000000000003" y1="24.5" x2="34.2" y2="24.5" stroke="#000" stroke-width="1.25"/>
<text x="30.4" y="27.950000000000003" font-size="8" font-weight="bold" text-anchor="end" fill="#000" stroke="#000" stroke-width="0.16">2.5</text>
<line x1="31.200000000000003" y1="41.5" x2="34.2" y2="41.5" stroke="#000" stroke-width="1.25"/>
<text x="30.4" y="45.15" font-size="8" font-weight="bold" text-anchor="end" fill="#000" stroke="#000" stroke-width="0.16">2.0</text>
<line x1="31.200000000000003" y1="58.5" x2="34.2" y2="58.5" stroke="#000" stroke-width="1.25"/>
<text x="30.4" y="62.35" font-size="8" font-weight="bold" text-anchor="end" fill="#000" stroke="#000" stroke-width="0.16">1.5</text>
<line x1="31.200000000000003" y1="75.5" x2="34.2" y2="75.5" stroke="#000" stroke-width="1.25"/>
<text x="30.4" y="79.64999999999999" font-size="8" font-weight="bold" text-anchor="end" fill="#000" stroke="#000" stroke-width="0.16">1.0</text>
<line x1="31.200000000000003" y1="93.5" x2="34.2" y2="93.5" stroke="#000" stroke-width="1.25"/>
<text x="30.4" y="96.85" font-size="8" font-weight="bold" text-anchor="end" fill="#000" stroke="#000" stroke-width="0.16">0.5</text>
<line x1="31.200000000000003" y1="110.5" x2="34.2" y2="110.5" stroke="#000" stroke-width="1.25"/>
<text x="30.4" y="114.05" font-size="8" font-weight="bold" text-anchor="end" fill="#000" stroke="#000" stroke-width="0.16">0.0</text>
<text x="13.2" y="66.4" font-size="9.45" font-weight="bold" text-anchor="middle" fill="#000" transform="rotate(-90 13.2 66.4)" textLength="93.2" lengthAdjust="spacingAndGlyphs" stroke="#000" stroke-width="0.189">Body weight gain (g)</text>
<line x1="50.5" y1="73.7" x2="50.5" y2="70.8" stroke="#111" stroke-width="1.0"/>
<line x1="44.6" y1="70.5" x2="56.4" y2="70.5" stroke="#111" stroke-width="1.0"/>
<rect x="39.5" y="73.5" width="22.0" height="37.0" fill="#fff" stroke="#000" stroke-width="1.2"/>
<text x="51.2" y="69.1" font-size="8.2" font-weight="normal" text-anchor="middle" fill="#000">a</text>
<line x1="50.5" y1="110.2" x2="50.5" y2="112.7" stroke="#000" stroke-width="1.2"/>
<line x1="83.5" y1="46" x2="83.5" y2="37.3" stroke="#111" stroke-width="1.0"/>
<line x1="77.9" y1="37.5" x2="89.70000000000002" y2="37.5" stroke="#111" stroke-width="1.0"/>
<rect x="72.8" y="46.5" width="22.000000000000014" height="64.0" fill="#000" stroke="#000" stroke-width="1.2"/>
<text x="84.50000000000001" y="34.9" font-size="8.2" font-weight="normal" text-anchor="middle" fill="#000">b</text>
<line x1="83.5" y1="110.2" x2="83.5" y2="112.7" stroke="#000" stroke-width="1.2"/>
<line x1="117.5" y1="74.2" x2="117.5" y2="71" stroke="#111" stroke-width="1.0"/>
<line x1="111.19999999999999" y1="71.5" x2="123.0" y2="71.5" stroke="#111" stroke-width="1.0"/>
<rect x="106.1" y="74.5" width="22.0" height="36.0" fill="none" stroke="#000" stroke-width="1.2"/>
<text x="117.8" y="69.3" font-size="8.2" font-weight="normal" text-anchor="middle" fill="#000">a</text>
<line x1="117.5" y1="110.2" x2="117.5" y2="112.7" stroke="#000" stroke-width="1.2"/>
<line x1="150.5" y1="72.6" x2="150.5" y2="67.6" stroke="#111" stroke-width="1.0"/>
<line x1="144.5" y1="67.5" x2="156.3" y2="67.5" stroke="#111" stroke-width="1.0"/>
<rect x="139.4" y="72.5" width="22.0" height="38.0" fill="none" stroke="#000" stroke-width="1.2"/>
<text x="151.1" y="65.89999999999999" font-size="8.2" font-weight="normal" text-anchor="middle" fill="#000">a</text>
<line x1="150.5" y1="110.2" x2="150.5" y2="112.7" stroke="#000" stroke-width="1.2"/>
<line x1="33.7" y1="110.5" x2="166.5" y2="110.5" stroke="#000" stroke-width="1.2"/>
<text x="50.7" y="118.8" font-size="6.5" font-weight="bold" text-anchor="middle" fill="#000" stroke="#000" stroke-width="0.13">WT-CT</text>
<text x="84" y="118.8" font-size="6.5" font-weight="bold" text-anchor="middle" fill="#000" stroke="#000" stroke-width="0.13">WT-LPS</text>
<text x="117.6" y="118.8" font-size="6.5" font-weight="bold" text-anchor="middle" fill="#000" stroke="#000" stroke-width="0.13">CD14-LPS</text>
<text x="150.3" y="118.8" font-size="6.5" font-weight="bold" text-anchor="middle" fill="#000" stroke="#000" stroke-width="0.13">CD14-CT</text>
<text x="178.6" y="11.3" font-size="13.3" font-weight="bold" text-anchor="start" fill="#000" stroke="#000" stroke-width="0.266">B</text>
<line x1="210.5" y1="28.4" x2="210.5" y2="108.1" stroke="#000" stroke-width="1.25"/>
<line x1="207.8" y1="28.5" x2="210.8" y2="28.5" stroke="#000" stroke-width="1.25"/>
<text x="207.5" y="31.4" font-size="7.0" font-weight="bold" text-anchor="end" fill="#000" stroke="#000" stroke-width="0.14">1.5</text>
<line x1="207.8" y1="55.5" x2="210.8" y2="55.5" stroke="#000" stroke-width="1.25"/>
<text x="207.5" y="57.7" font-size="7.0" font-weight="bold" text-anchor="end" fill="#000" stroke="#000" stroke-width="0.14">1.0</text>
<line x1="207.8" y1="81.5" x2="210.8" y2="81.5" stroke="#000" stroke-width="1.25"/>
<text x="207.5" y="84.0" font-size="7.0" font-weight="bold" text-anchor="end" fill="#000" stroke="#000" stroke-width="0.14">0.5</text>
<line x1="207.8" y1="107.5" x2="210.8" y2="107.5" stroke="#000" stroke-width="1.25"/>
<text x="207.5" y="110.1" font-size="7.0" font-weight="bold" text-anchor="end" fill="#000" stroke="#000" stroke-width="0.14">0.0</text>
<text x="180.8" y="66.35" font-size="8.65" font-weight="bold" text-anchor="middle" fill="#000" transform="rotate(-90 180.8 66.35)" textLength="62.2" lengthAdjust="spacingAndGlyphs" stroke="#000" stroke-width="0.173">Adipose tissue</text>
<text x="191.5" y="66.9" font-size="8.66" font-weight="bold" text-anchor="middle" fill="#000" transform="rotate(-90 191.5 66.9)" textLength="75.2" lengthAdjust="spacingAndGlyphs" stroke="#000" stroke-width="0.173">(%of body weight)</text>
<line x1="221.5" y1="77.7" x2="221.5" y2="76.3" stroke="#111" stroke-width="0.9"/>
<line x1="219.3" y1="76.5" x2="224.3" y2="76.5" stroke="#111" stroke-width="0.9"/>
<rect x="217.5" y="77.5" width="8.599999999999994" height="30.0" fill="#fff" stroke="#000" stroke-width="1.2"/>
<text x="222.10000000000002" y="74.7" font-size="6.8" font-weight="normal" text-anchor="middle" fill="#333">a</text>
<line x1="234.5" y1="65.2" x2="234.5" y2="62.7" stroke="#111" stroke-width="0.9"/>
<line x1="232.2" y1="62.5" x2="237.2" y2="62.5" stroke="#111" stroke-width="0.9"/>
<rect x="230.6" y="65.5" width="8.200000000000017" height="42.0" fill="#000" stroke="#000" stroke-width="1.2"/>
<text x="235.0" y="60.0" font-size="6.8" font-weight="normal" text-anchor="middle" fill="#333">b</text>
<line x1="247.5" y1="80.2" x2="247.5" y2="78.1" stroke="#111" stroke-width="0.9"/>
<line x1="245.25" y1="78.5" x2="250.25" y2="78.5" stroke="#111" stroke-width="0.9"/>
<rect x="243.7" y="80.5" width="8.100000000000023" height="27.0" fill="none" stroke="#000" stroke-width="1.2"/>
<text x="248.05" y="76.8" font-size="6.8" font-weight="normal" text-anchor="middle" fill="#333">a</text>
<line x1="260.5" y1="75.9" x2="260.5" y2="73.4" stroke="#111" stroke-width="0.9"/>
<line x1="258.05" y1="73.5" x2="263.05" y2="73.5" stroke="#111" stroke-width="0.9"/>
<rect x="256.6" y="75.5" width="7.899999999999977" height="32.0" fill="none" stroke="#000" stroke-width="1.2"/>
<text x="260.85" y="72.5" font-size="6.8" font-weight="normal" text-anchor="middle" fill="#333">a</text>
<line x1="282.5" y1="52.5" x2="282.5" y2="47.4" stroke="#111" stroke-width="0.9"/>
<line x1="279.6" y1="47.5" x2="284.6" y2="47.5" stroke="#111" stroke-width="0.9"/>
<rect x="277.40000000000003" y="52.5" width="9.39999999999992" height="55.0" fill="#fff" stroke="#000" stroke-width="1.2"/>
<text x="282.40000000000003" y="45.1" font-size="6.8" font-weight="normal" text-anchor="middle" fill="#333">a</text>
<line x1="295.5" y1="33.6" x2="295.5" y2="29.4" stroke="#111" stroke-width="0.9"/>
<line x1="292.8" y1="29.5" x2="297.8" y2="29.5" stroke="#111" stroke-width="0.9"/>
<rect x="291.20000000000005" y="33.5" width="8.199999999999932" height="74.0" fill="#000" stroke="#000" stroke-width="1.2"/>
<text x="295.6" y="27.3" font-size="6.8" font-weight="normal" text-anchor="middle" fill="#333">b</text>
<line x1="308.5" y1="50.3" x2="308.5" y2="44.7" stroke="#111" stroke-width="0.9"/>
<line x1="305.85" y1="44.5" x2="310.85" y2="44.5" stroke="#111" stroke-width="0.9"/>
<rect x="304.1" y="50.5" width="8.499999999999943" height="57.0" fill="none" stroke="#000" stroke-width="1.2"/>
<text x="308.65000000000003" y="42.3" font-size="6.8" font-weight="normal" text-anchor="middle" fill="#333">a</text>
<line x1="321.5" y1="42.3" x2="321.5" y2="35.2" stroke="#111" stroke-width="0.9"/>
<line x1="318.55" y1="35.5" x2="323.55" y2="35.5" stroke="#111" stroke-width="0.9"/>
<rect x="316.90000000000003" y="42.5" width="8.299999999999955" height="65.0" fill="none" stroke="#000" stroke-width="1.2"/>
<text x="321.35" y="33.1" font-size="6.8" font-weight="normal" text-anchor="middle" fill="#333">a b</text>
<line x1="210.3" y1="107.5" x2="332.7" y2="107.5" stroke="#000" stroke-width="1.2"/>
<text x="241.3" y="118" font-size="8.3" font-weight="bold" text-anchor="middle" fill="#000" stroke="#000" stroke-width="0.166">Visceral</text>
<text x="301.5" y="118" font-size="8.7" font-weight="bold" text-anchor="middle" fill="#000" stroke="#000" stroke-width="0.174">Subcutaneous</text>
<text x="353.5" y="11.5" font-size="13.3" font-weight="bold" text-anchor="start" fill="#000" stroke="#000" stroke-width="0.266">C</text>
<line x1="379.5" y1="34.2" x2="379.5" y2="110.7" stroke="#000" stroke-width="1.25"/>
<line x1="376.6" y1="34.5" x2="379.6" y2="34.5" stroke="#000" stroke-width="1.25"/>
<text x="375.6" y="37.5" font-size="7.0" font-weight="bold" text-anchor="end" fill="#000" stroke="#000" stroke-width="0.14">17</text>
<line x1="376.6" y1="53.5" x2="379.6" y2="53.5" stroke="#000" stroke-width="1.25"/>
<text x="375.6" y="56.4" font-size="7.0" font-weight="bold" text-anchor="end" fill="#000" stroke="#000" stroke-width="0.14">14</text>
<line x1="376.6" y1="72.5" x2="379.6" y2="72.5" stroke="#000" stroke-width="1.25"/>
<text x="375.6" y="75.3" font-size="7.0" font-weight="bold" text-anchor="end" fill="#000" stroke="#000" stroke-width="0.14">11</text>
<line x1="376.6" y1="91.5" x2="379.6" y2="91.5" stroke="#000" stroke-width="1.25"/>
<text x="375.6" y="94.2" font-size="7.0" font-weight="bold" text-anchor="end" fill="#000" stroke="#000" stroke-width="0.14">8</text>
<line x1="376.6" y1="110.5" x2="379.6" y2="110.5" stroke="#000" stroke-width="1.25"/>
<text x="375.6" y="113.0" font-size="7.0" font-weight="bold" text-anchor="end" fill="#000" stroke="#000" stroke-width="0.14">5</text>
<text x="361.8" y="71.0" font-size="8.4" font-weight="bold" text-anchor="middle" fill="#000" transform="rotate(-90 361.8 71.0)" textLength="98.7" lengthAdjust="spacingAndGlyphs" stroke="#000" stroke-width="0.168">Plasma glucose (mmol/l)</text>
<line x1="379.1" y1="110.5" x2="494" y2="110.5" stroke="#000" stroke-width="1.2"/>
<line x1="379.5" y1="110.2" x2="379.5" y2="113.2" stroke="#000" stroke-width="1.2"/>
<text x="379.0" y="119.6" font-size="6.6" font-weight="bold" text-anchor="middle" fill="#000" stroke="#000" stroke-width="0.132">-30</text>
<line x1="393.5" y1="110.2" x2="393.5" y2="113.2" stroke="#000" stroke-width="1.2"/>
<text x="393.25" y="119.6" font-size="6.6" font-weight="bold" text-anchor="middle" fill="#000" stroke="#000" stroke-width="0.132">-15</text>
<line x1="407.5" y1="110.2" x2="407.5" y2="113.2" stroke="#000" stroke-width="1.2"/>
<text x="407.5" y="119.6" font-size="6.6" font-weight="bold" text-anchor="middle" fill="#000" stroke="#000" stroke-width="0.132">0</text>
<line x1="421.5" y1="110.2" x2="421.5" y2="113.2" stroke="#000" stroke-width="1.2"/>
<text x="421.75" y="119.6" font-size="6.6" font-weight="bold" text-anchor="middle" fill="#000" stroke="#000" stroke-width="0.132">15</text>
<line x1="436.5" y1="110.2" x2="436.5" y2="113.2" stroke="#000" stroke-width="1.2"/>
<text x="436.0" y="119.6" font-size="6.6" font-weight="bold" text-anchor="middle" fill="#000" stroke="#000" stroke-width="0.132">30</text>
<line x1="450.5" y1="110.2" x2="450.5" y2="113.2" stroke="#000" stroke-width="1.2"/>
<text x="450.25" y="119.6" font-size="6.6" font-weight="bold" text-anchor="middle" fill="#000" stroke="#000" stroke-width="0.132">45</text>
<line x1="464.5" y1="110.2" x2="464.5" y2="113.2" stroke="#000" stroke-width="1.2"/>
<text x="464.5" y="119.6" font-size="6.6" font-weight="bold" text-anchor="middle" fill="#000" stroke="#000" stroke-width="0.132">60</text>
<line x1="478.5" y1="110.2" x2="478.5" y2="113.2" stroke="#000" stroke-width="1.2"/>
<text x="478.75" y="119.6" font-size="6.6" font-weight="bold" text-anchor="middle" fill="#000" stroke="#000" stroke-width="0.132">75</text>
<line x1="493.5" y1="110.2" x2="493.5" y2="113.2" stroke="#000" stroke-width="1.2"/>
<text x="493.0" y="119.6" font-size="6.6" font-weight="bold" text-anchor="middle" fill="#000" stroke="#000" stroke-width="0.132">90</text>
<text x="437.3" y="131.0" font-size="8" font-weight="bold" text-anchor="middle" fill="#000" textLength="40" lengthAdjust="spacingAndGlyphs" stroke="#000" stroke-width="0.16">Time (min)</text>
<polyline points="379,88.0 407.5,83.3 436,50.7 464.5,65.9 493,82.5" fill="none" stroke="#000" stroke-width="1.0"/>
<polyline points="379,93.0 407.5,92.2 436,55.5 464.5,72.4 493,79.4" fill="none" stroke="#000" stroke-width="1.0"/>
<polyline points="379,88.8 407.5,94.1 436,61.9 464.5,79.7 493,83.8" fill="none" stroke="#000" stroke-width="1.0"/>
<polyline points="379,101.6 407.5,102.6 436,66.5 464.5,84.5 493,85.7" fill="none" stroke="#000" stroke-width="1.0"/>
<line x1="379.5" y1="82.5" x2="379.5" y2="93.5" stroke="#000" stroke-width="0.7"/>
<line x1="377.5" y1="82.5" x2="380.5" y2="82.5" stroke="#000" stroke-width="0.7"/>
<line x1="377.5" y1="93.5" x2="380.5" y2="93.5" stroke="#000" stroke-width="0.7"/>
<line x1="407.5" y1="81.3" x2="407.5" y2="85.3" stroke="#000" stroke-width="0.7"/>
<line x1="406.0" y1="81.5" x2="409.0" y2="81.5" stroke="#000" stroke-width="0.7"/>
<line x1="406.0" y1="85.5" x2="409.0" y2="85.5" stroke="#000" stroke-width="0.7"/>
<line x1="436.5" y1="43.400000000000006" x2="436.5" y2="58.0" stroke="#000" stroke-width="0.7"/>
<line x1="434.5" y1="43.5" x2="437.5" y2="43.5" stroke="#000" stroke-width="0.7"/>
<line x1="434.5" y1="58.5" x2="437.5" y2="58.5" stroke="#000" stroke-width="0.7"/>
<line x1="464.5" y1="63.10000000000001" x2="464.5" y2="68.7" stroke="#000" stroke-width="0.7"/>
<line x1="463.0" y1="63.5" x2="466.0" y2="63.5" stroke="#000" stroke-width="0.7"/>
<line x1="463.0" y1="68.5" x2="466.0" y2="68.5" stroke="#000" stroke-width="0.7"/>
<line x1="464.5" y1="76.7" x2="464.5" y2="82.7" stroke="#000" stroke-width="0.7"/>
<line x1="463.0" y1="76.5" x2="466.0" y2="76.5" stroke="#000" stroke-width="0.7"/>
<line x1="463.0" y1="82.5" x2="466.0" y2="82.5" stroke="#000" stroke-width="0.7"/>
<path d="M377.4,89.3 L380.6,89.3 L379,86.2 Z" fill="#000"/>
<path d="M405.9,84.6 L409.1,84.6 L407.5,81.5 Z" fill="#000"/>
<path d="M434.4,52.0 L437.6,52.0 L436,48.900000000000006 Z" fill="#000"/>
<path d="M462.9,67.2 L466.1,67.2 L464.5,64.10000000000001 Z" fill="#000"/>
<path d="M491.4,83.8 L494.6,83.8 L493,80.7 Z" fill="#000"/>
<rect x="377.5" y="91.5" width="3" height="3" fill="#000"/>
<rect x="406.0" y="90.7" width="3" height="3" fill="#000"/>
<rect x="434.5" y="54.0" width="3" height="3" fill="#000"/>
<rect x="463.0" y="70.9" width="3" height="3" fill="#000"/>
<rect x="491.5" y="77.9" width="3" height="3" fill="#000"/>
<circle cx="379" cy="88.8" r="1.5" fill="#000"/>
<circle cx="407.5" cy="94.1" r="1.5" fill="#000"/>
<circle cx="436" cy="61.9" r="1.5" fill="#000"/>
<circle cx="464.5" cy="79.7" r="1.5" fill="#000"/>
<circle cx="493" cy="83.8" r="1.5" fill="#000"/>
<circle cx="379" cy="101.6" r="1.55" fill="#fff" stroke="#000" stroke-width="0.7"/>
<rect x="406.1" y="101.19999999999999" width="2.8" height="2.8" fill="#fff" stroke="#000" stroke-width="0.7"/>
<rect x="434.6" y="65.1" width="2.8" height="2.8" fill="#fff" stroke="#000" stroke-width="0.7"/>
<circle cx="464.5" cy="84.5" r="1.55" fill="#fff" stroke="#000" stroke-width="0.7"/>
<circle cx="493" cy="85.7" r="1.55" fill="#fff" stroke="#000" stroke-width="0.7"/>
<line x1="455.5" y1="4.6" x2="455.5" y2="44.6" stroke="#000" stroke-width="0.9"/>
<line x1="453.6" y1="5.5" x2="455.1" y2="5.5" stroke="#000" stroke-width="0.8"/>
<text x="452.90000000000003" y="6.8" font-size="3.2" font-weight="bold" text-anchor="end" fill="#222" stroke="none">1500</text>
<line x1="453.6" y1="18.5" x2="455.1" y2="18.5" stroke="#000" stroke-width="0.8"/>
<text x="452.90000000000003" y="19.7" font-size="3.2" font-weight="bold" text-anchor="end" fill="#222" stroke="none">1000</text>
<line x1="453.6" y1="31.5" x2="455.1" y2="31.5" stroke="#000" stroke-width="0.8"/>
<text x="452.90000000000003" y="32.7" font-size="3.2" font-weight="bold" text-anchor="end" fill="#222" stroke="none">500</text>
<line x1="453.6" y1="44.5" x2="455.1" y2="44.5" stroke="#000" stroke-width="0.8"/>
<text x="452.90000000000003" y="45.7" font-size="3.2" font-weight="bold" text-anchor="end" fill="#222" stroke="none">0</text>
<text x="442.6" y="22.7" font-size="3.6" font-weight="bold" text-anchor="middle" fill="#000" transform="rotate(-90 442.6 22.7)" stroke="none">AUC</text>
<line x1="463.5" y1="12.2" x2="463.5" y2="11.1" stroke="#111" stroke-width="0.7"/>
<line x1="461.65" y1="11.5" x2="465.65" y2="11.5" stroke="#111" stroke-width="0.7"/>
<rect x="458.79999999999995" y="12.5" width="9.700000000000045" height="32.0" fill="#fff" stroke="#000" stroke-width="0.8"/>
<text x="463.65" y="10.299999999999999" font-size="2.8" font-weight="normal" text-anchor="middle" fill="#000">a</text>
<line x1="463.5" y1="44.2" x2="463.5" y2="45.400000000000006" stroke="#000" stroke-width="0.7"/>
<line x1="478.5" y1="8.6" x2="478.5" y2="7.3" stroke="#111" stroke-width="0.7"/>
<line x1="476.6" y1="7.5" x2="480.6" y2="7.5" stroke="#111" stroke-width="0.7"/>
<rect x="473.7" y="8.5" width="9.800000000000011" height="36.0" fill="#000" stroke="#000" stroke-width="0.8"/>
<text x="478.6" y="6.5" font-size="2.8" font-weight="normal" text-anchor="middle" fill="#000">b</text>
<line x1="478.5" y1="44.2" x2="478.5" y2="45.400000000000006" stroke="#000" stroke-width="0.7"/>
<line x1="493.5" y1="14.3" x2="493.5" y2="13.0" stroke="#111" stroke-width="0.7"/>
<line x1="491.6" y1="13.5" x2="495.6" y2="13.5" stroke="#111" stroke-width="0.7"/>
<rect x="488.59999999999997" y="14.5" width="10.000000000000057" height="30.0" fill="none" stroke="#000" stroke-width="0.8"/>
<text x="493.6" y="12.2" font-size="2.8" font-weight="normal" text-anchor="middle" fill="#000">a,c</text>
<line x1="493.5" y1="44.2" x2="493.5" y2="45.400000000000006" stroke="#000" stroke-width="0.7"/>
<line x1="508.5" y1="17.3" x2="508.5" y2="16.3" stroke="#111" stroke-width="0.7"/>
<line x1="506.54999999999995" y1="16.5" x2="510.54999999999995" y2="16.5" stroke="#111" stroke-width="0.7"/>
<rect x="503.7" y="17.5" width="9.699999999999989" height="27.0" fill="none" stroke="#000" stroke-width="0.8"/>
<text x="508.54999999999995" y="15.5" font-size="2.8" font-weight="normal" text-anchor="middle" fill="#000">c</text>
<line x1="508.5" y1="44.2" x2="508.5" y2="45.400000000000006" stroke="#000" stroke-width="0.7"/>
<line x1="454.70000000000005" y1="44.5" x2="515.7" y2="44.5" stroke="#000" stroke-width="0.9"/>
<text x="464.6" y="49.3" font-size="3.7" font-weight="bold" text-anchor="end" fill="#000" transform="rotate(-18 464.6 49.3)" stroke="none">WT-CT</text>
<text x="479.1" y="49.3" font-size="3.7" font-weight="bold" text-anchor="end" fill="#000" transform="rotate(-18 479.1 49.3)" stroke="none">WT-LPS</text>
<text x="494.3" y="49.3" font-size="3.7" font-weight="bold" text-anchor="end" fill="#000" transform="rotate(-18 494.3 49.3)" stroke="none">CD14-LPS</text>
<text x="509.1" y="49.3" font-size="3.7" font-weight="bold" text-anchor="end" fill="#000" transform="rotate(-18 509.1 49.3)" stroke="none">CD14-CT</text>
<text x="1.9" y="152.1" font-size="13.3" font-weight="bold" text-anchor="start" fill="#000" stroke="#000" stroke-width="0.266">D</text>
<line x1="34.5" y1="167.6" x2="34.5" y2="252.6" stroke="#000" stroke-width="1.25"/>
<line x1="30.999999999999996" y1="168.5" x2="34.3" y2="168.5" stroke="#000" stroke-width="1.25"/>
<text x="30.2" y="171.7" font-size="7.25" font-weight="bold" text-anchor="end" fill="#000" stroke="#000" stroke-width="0.145">150</text>
<line x1="30.999999999999996" y1="196.5" x2="34.3" y2="196.5" stroke="#000" stroke-width="1.25"/>
<text x="30.2" y="199.7" font-size="7.25" font-weight="bold" text-anchor="end" fill="#000" stroke="#000" stroke-width="0.145">100</text>
<line x1="30.999999999999996" y1="224.5" x2="34.3" y2="224.5" stroke="#000" stroke-width="1.25"/>
<text x="30.2" y="227.7" font-size="7.25" font-weight="bold" text-anchor="end" fill="#000" stroke="#000" stroke-width="0.145">50</text>
<line x1="30.999999999999996" y1="252.5" x2="34.3" y2="252.5" stroke="#000" stroke-width="1.25"/>
<text x="30.2" y="255.7" font-size="7.25" font-weight="bold" text-anchor="end" fill="#000" stroke="#000" stroke-width="0.145">0</text>
<text x="9.9" y="209.4" font-size="9.23" font-weight="bold" text-anchor="middle" fill="#000" transform="rotate(-90 9.9 209.4)" textLength="101.2" lengthAdjust="spacingAndGlyphs" stroke="#000" stroke-width="0.185">Plasma Insulin (pmol/l)</text>
<line x1="45.5" y1="206.4" x2="45.5" y2="202.5" stroke="#111" stroke-width="1.0"/>
<line x1="42.85" y1="202.5" x2="48.35" y2="202.5" stroke="#111" stroke-width="1.0"/>
<rect x="41.0" y="206.5" width="9.200000000000003" height="46.0" fill="#fff" stroke="#000" stroke-width="1.2"/>
<line x1="59.5" y1="202" x2="59.5" y2="190.6" stroke="#111" stroke-width="1.0"/>
<line x1="56.65" y1="190.5" x2="62.15" y2="190.5" stroke="#111" stroke-width="1.0"/>
<rect x="55.1" y="202.5" width="8.599999999999994" height="50.0" fill="#000" stroke="#000" stroke-width="1.2"/>
<line x1="73.5" y1="212.5" x2="73.5" y2="208.5" stroke="#111" stroke-width="1.0"/>
<line x1="70.45" y1="208.5" x2="75.95" y2="208.5" stroke="#111" stroke-width="1.0"/>
<rect x="68.89999999999999" y="212.5" width="8.600000000000023" height="40.0" fill="none" stroke="#000" stroke-width="1.2"/>
<line x1="87.5" y1="217.1" x2="87.5" y2="216.4" stroke="#111" stroke-width="1.0"/>
<line x1="84.45" y1="216.5" x2="89.95" y2="216.5" stroke="#111" stroke-width="1.0"/>
<rect x="82.89999999999999" y="217.5" width="8.600000000000023" height="35.0" fill="none" stroke="#000" stroke-width="1.2"/>
<line x1="110.5" y1="185.6" x2="110.5" y2="175.5" stroke="#111" stroke-width="1.0"/>
<line x1="107.65" y1="175.5" x2="113.15" y2="175.5" stroke="#111" stroke-width="1.0"/>
<rect x="105.8" y="185.5" width="9.200000000000017" height="67.0" fill="#fff" stroke="#000" stroke-width="1.2"/>
<line x1="123.5" y1="199.5" x2="123.5" y2="193.2" stroke="#111" stroke-width="1.0"/>
<line x1="121.15" y1="193.5" x2="126.65" y2="193.5" stroke="#111" stroke-width="1.0"/>
<rect x="119.6" y="199.5" width="8.600000000000023" height="53.0" fill="#000" stroke="#000" stroke-width="1.2"/>
<line x1="138.5" y1="189.4" x2="138.5" y2="180.6" stroke="#111" stroke-width="1.0"/>
<line x1="135.55" y1="180.5" x2="141.05" y2="180.5" stroke="#111" stroke-width="1.0"/>
<rect x="134.0" y="189.5" width="8.600000000000023" height="63.0" fill="none" stroke="#000" stroke-width="1.2"/>
<line x1="151.5" y1="193.2" x2="151.5" y2="190.6" stroke="#111" stroke-width="1.0"/>
<line x1="148.75" y1="190.5" x2="154.25" y2="190.5" stroke="#111" stroke-width="1.0"/>
<rect x="147.2" y="193.5" width="8.600000000000023" height="59.0" fill="none" stroke="#000" stroke-width="1.2"/>
<line x1="33.8" y1="252.5" x2="163.7" y2="252.5" stroke="#000" stroke-width="1.2"/>
<line x1="66.5" y1="252.1" x2="66.5" y2="255.1" stroke="#000" stroke-width="1.2"/>
<line x1="130.5" y1="252.1" x2="130.5" y2="255.1" stroke="#000" stroke-width="1.2"/>
<text x="66.5" y="262.0" font-size="7.6" font-weight="bold" text-anchor="middle" fill="#000" textLength="10.6" lengthAdjust="spacingAndGlyphs" stroke="#000" stroke-width="0.152">-30</text>
<text x="130.85" y="262.0" font-size="7.6" font-weight="bold" text-anchor="middle" fill="#000" stroke="#000" stroke-width="0.152">30</text>
<text x="98.7" y="273.4" font-size="8.7" font-weight="bold" text-anchor="middle" fill="#000" textLength="43.8" lengthAdjust="spacingAndGlyphs" stroke="#000" stroke-width="0.174">Time (min)</text>
<text x="179.6" y="152.7" font-size="13.3" font-weight="bold" text-anchor="start" fill="#000" stroke="#000" stroke-width="0.266">E</text>
<line x1="204.5" y1="167.6" x2="204.5" y2="253.0" stroke="#000" stroke-width="1.25"/>
<line x1="201.5" y1="168.5" x2="204.8" y2="168.5" stroke="#000" stroke-width="1.25"/>
<text x="200.4" y="171.29999999999998" font-size="6.9" font-weight="bold" text-anchor="end" fill="#000" stroke="#000" stroke-width="0.138">6</text>
<line x1="201.5" y1="182.5" x2="204.8" y2="182.5" stroke="#000" stroke-width="1.25"/>
<text x="200.4" y="185.36999999999998" font-size="6.9" font-weight="bold" text-anchor="end" fill="#000" stroke="#000" stroke-width="0.138">5</text>
<line x1="201.5" y1="196.5" x2="204.8" y2="196.5" stroke="#000" stroke-width="1.25"/>
<text x="200.4" y="199.44" font-size="6.9" font-weight="bold" text-anchor="end" fill="#000" stroke="#000" stroke-width="0.138">4</text>
<line x1="201.5" y1="210.5" x2="204.8" y2="210.5" stroke="#000" stroke-width="1.25"/>
<text x="200.4" y="213.51" font-size="6.9" font-weight="bold" text-anchor="end" fill="#000" stroke="#000" stroke-width="0.138">3</text>
<line x1="201.5" y1="224.5" x2="204.8" y2="224.5" stroke="#000" stroke-width="1.25"/>
<text x="200.4" y="227.57999999999998" font-size="6.9" font-weight="bold" text-anchor="end" fill="#000" stroke="#000" stroke-width="0.138">2</text>
<line x1="201.5" y1="238.5" x2="204.8" y2="238.5" stroke="#000" stroke-width="1.25"/>
<text x="200.4" y="241.64999999999998" font-size="6.9" font-weight="bold" text-anchor="end" fill="#000" stroke="#000" stroke-width="0.138">1</text>
<line x1="201.5" y1="252.5" x2="204.8" y2="252.5" stroke="#000" stroke-width="1.25"/>
<text x="200.4" y="255.71999999999997" font-size="6.9" font-weight="bold" text-anchor="end" fill="#000" stroke="#000" stroke-width="0.138">0</text>
<text x="178.9" y="209.4" font-size="9.32" font-weight="bold" text-anchor="middle" fill="#000" transform="rotate(-90 178.9 209.4)" textLength="55.2" lengthAdjust="spacingAndGlyphs" stroke="#000" stroke-width="0.186">Liver weight</text>
<text x="190.3" y="209.65" font-size="9.19" font-weight="bold" text-anchor="middle" fill="#000" transform="rotate(-90 190.3 209.65)" textLength="79.8" lengthAdjust="spacingAndGlyphs" stroke="#000" stroke-width="0.184">(%of body weight)</text>
<line x1="221.5" y1="203.8" x2="221.5" y2="201.5" stroke="#111" stroke-width="1.0"/>
<line x1="215.5" y1="201.5" x2="226.5" y2="201.5" stroke="#111" stroke-width="1.0"/>
<rect x="210.29999999999998" y="203.5" width="21.400000000000034" height="49.0" fill="#fff" stroke="#000" stroke-width="1.2"/>
<text x="221.4" y="199.6" font-size="8.2" font-weight="normal" text-anchor="middle" fill="#000" stroke="#000" stroke-width="0.15">a</text>
<line x1="221.5" y1="252.5" x2="221.5" y2="255.0" stroke="#000" stroke-width="1.2"/>
<line x1="253.5" y1="187.2" x2="253.5" y2="182.0" stroke="#111" stroke-width="1.0"/>
<line x1="247.8" y1="182.5" x2="258.8" y2="182.5" stroke="#111" stroke-width="1.0"/>
<rect x="242.6" y="187.5" width="21.400000000000006" height="65.0" fill="#000" stroke="#000" stroke-width="1.2"/>
<text x="253.70000000000002" y="179.8" font-size="8.2" font-weight="normal" text-anchor="middle" fill="#000" stroke="#000" stroke-width="0.15">b</text>
<line x1="253.5" y1="252.5" x2="253.5" y2="255.0" stroke="#000" stroke-width="1.2"/>
<line x1="285.5" y1="201.7" x2="285.5" y2="200.2" stroke="#111" stroke-width="1.0"/>
<line x1="280.3" y1="200.5" x2="291.3" y2="200.5" stroke="#111" stroke-width="1.0"/>
<rect x="275.1" y="201.5" width="21.399999999999977" height="51.0" fill="none" stroke="#000" stroke-width="1.2"/>
<text x="286.2" y="198.5" font-size="8.2" font-weight="normal" text-anchor="middle" fill="#000" stroke="#000" stroke-width="0.15">a</text>
<line x1="285.5" y1="252.5" x2="285.5" y2="255.0" stroke="#000" stroke-width="1.2"/>
<line x1="318.5" y1="201.7" x2="318.5" y2="200.2" stroke="#111" stroke-width="1.0"/>
<line x1="312.6" y1="200.5" x2="323.6" y2="200.5" stroke="#111" stroke-width="1.0"/>
<rect x="307.40000000000003" y="201.5" width="21.399999999999977" height="51.0" fill="none" stroke="#000" stroke-width="1.2"/>
<text x="318.5" y="198.5" font-size="8.2" font-weight="normal" text-anchor="middle" fill="#000" stroke="#000" stroke-width="0.15">a</text>
<line x1="318.5" y1="252.5" x2="318.5" y2="255.0" stroke="#000" stroke-width="1.2"/>
<line x1="204.3" y1="252.5" x2="334.8" y2="252.5" stroke="#000" stroke-width="1.2"/>
<text x="220.4" y="261.6" font-size="6.3" font-weight="bold" text-anchor="middle" fill="#000" stroke="#000" stroke-width="0.126">WT-CT</text>
<text x="253.5" y="261.6" font-size="6.3" font-weight="bold" text-anchor="middle" fill="#000" stroke="#000" stroke-width="0.126">WT-LPS</text>
<text x="285.7" y="261.6" font-size="6.3" font-weight="bold" text-anchor="middle" fill="#000" stroke="#000" stroke-width="0.126">CD14-LPS</text>
<text x="318" y="261.6" font-size="6.3" font-weight="bold" text-anchor="middle" fill="#000" stroke="#000" stroke-width="0.126">CD14-CT</text>
<text x="354.4" y="152.7" font-size="13.3" font-weight="bold" text-anchor="start" fill="#000" stroke="#000" stroke-width="0.266">F</text>
<line x1="377.5" y1="170.6" x2="377.5" y2="253.9" stroke="#000" stroke-width="1.25"/>
<line x1="374.8" y1="171.5" x2="377.8" y2="171.5" stroke="#000" stroke-width="1.25"/>
<text x="374.5" y="174.9" font-size="7.3" font-weight="bold" text-anchor="end" fill="#000" stroke="#000" stroke-width="0.146">25</text>
<line x1="374.8" y1="187.5" x2="377.8" y2="187.5" stroke="#000" stroke-width="1.25"/>
<text x="374.5" y="191.36" font-size="7.3" font-weight="bold" text-anchor="end" fill="#000" stroke="#000" stroke-width="0.146">20</text>
<line x1="374.8" y1="204.5" x2="377.8" y2="204.5" stroke="#000" stroke-width="1.25"/>
<text x="374.5" y="207.82" font-size="7.3" font-weight="bold" text-anchor="end" fill="#000" stroke="#000" stroke-width="0.146">15</text>
<line x1="374.8" y1="220.5" x2="377.8" y2="220.5" stroke="#000" stroke-width="1.25"/>
<text x="374.5" y="224.28" font-size="7.3" font-weight="bold" text-anchor="end" fill="#000" stroke="#000" stroke-width="0.146">10</text>
<line x1="374.8" y1="236.5" x2="377.8" y2="236.5" stroke="#000" stroke-width="1.25"/>
<text x="374.5" y="240.74" font-size="7.3" font-weight="bold" text-anchor="end" fill="#000" stroke="#000" stroke-width="0.146">5</text>
<line x1="374.8" y1="253.5" x2="377.8" y2="253.5" stroke="#000" stroke-width="1.25"/>
<text x="374.5" y="257.2" font-size="7.3" font-weight="bold" text-anchor="end" fill="#000" stroke="#000" stroke-width="0.146">0</text>
<text x="347.6" y="211.9" font-size="9.0" font-weight="bold" text-anchor="middle" fill="#000" transform="rotate(-90 347.6 211.9)" textLength="78.2" lengthAdjust="spacingAndGlyphs" stroke="#000" stroke-width="0.18">Liver triglycerides</text>
<text x="359.6" y="211.35" font-size="9.06" font-weight="bold" text-anchor="middle" fill="#000" transform="rotate(-90 359.6 211.35)" textLength="49.2" lengthAdjust="spacingAndGlyphs" stroke="#000" stroke-width="0.181">(µmol/liver)</text>
<line x1="393.5" y1="213.9" x2="393.5" y2="211.2" stroke="#111" stroke-width="1.0"/>
<line x1="388.4" y1="211.5" x2="399.4" y2="211.5" stroke="#111" stroke-width="1.0"/>
<rect x="383.5" y="213.5" width="20.799999999999955" height="40.0" fill="#fff" stroke="#000" stroke-width="1.2"/>
<text x="394.2" y="207.3" font-size="6.4" font-weight="bold" text-anchor="middle" fill="#222" stroke="none">a</text>
<line x1="393.5" y1="253.4" x2="393.5" y2="255.9" stroke="#000" stroke-width="1.2"/>
<line x1="425.5" y1="200.0" x2="425.5" y2="190.3" stroke="#111" stroke-width="1.0"/>
<line x1="419.95" y1="190.5" x2="430.95" y2="190.5" stroke="#111" stroke-width="1.0"/>
<rect x="415.35" y="200.5" width="20.199999999999932" height="53.0" fill="#000" stroke="#000" stroke-width="1.2"/>
<text x="425.75" y="187.4" font-size="6.4" font-weight="bold" text-anchor="middle" fill="#222" stroke="none">a</text>
<line x1="425.5" y1="253.4" x2="425.5" y2="255.9" stroke="#000" stroke-width="1.2"/>
<line x1="457.5" y1="214.3" x2="457.5" y2="209.1" stroke="#111" stroke-width="1.0"/>
<line x1="451.5" y1="209.5" x2="462.5" y2="209.5" stroke="#111" stroke-width="1.0"/>
<rect x="446.90000000000003" y="214.5" width="20.199999999999932" height="39.0" fill="none" stroke="#000" stroke-width="1.2"/>
<text x="457.3" y="206.6" font-size="6.4" font-weight="bold" text-anchor="middle" fill="#222" stroke="none">a</text>
<line x1="457.5" y1="253.4" x2="457.5" y2="255.9" stroke="#000" stroke-width="1.2"/>
<line x1="488.5" y1="217.6" x2="488.5" y2="214.1" stroke="#111" stroke-width="1.0"/>
<line x1="483.4" y1="214.5" x2="494.4" y2="214.5" stroke="#111" stroke-width="1.0"/>
<rect x="478.8" y="217.5" width="20.199999999999932" height="36.0" fill="none" stroke="#000" stroke-width="1.2"/>
<text x="489.2" y="211.2" font-size="6.4" font-weight="bold" text-anchor="middle" fill="#222" stroke="none">a</text>
<line x1="488.5" y1="253.4" x2="488.5" y2="255.9" stroke="#000" stroke-width="1.2"/>
<line x1="377.3" y1="253.5" x2="505.5" y2="253.5" stroke="#000" stroke-width="1.2"/>
<text x="393.7" y="262.4" font-size="6.3" font-weight="bold" text-anchor="middle" fill="#000" stroke="#000" stroke-width="0.126">WT-CT</text>
<text x="425.7" y="262.4" font-size="6.3" font-weight="bold" text-anchor="middle" fill="#000" stroke="#000" stroke-width="0.126">WT-LPS</text>
<text x="457.2" y="262.4" font-size="6.3" font-weight="bold" text-anchor="middle" fill="#000" stroke="#000" stroke-width="0.126">CD14-LPS</text>
<text x="489.3" y="262.4" font-size="6.3" font-weight="bold" text-anchor="middle" fill="#000" stroke="#000" stroke-width="0.126">CD14-CT</text>
</g>
</svg>
</body></html>
